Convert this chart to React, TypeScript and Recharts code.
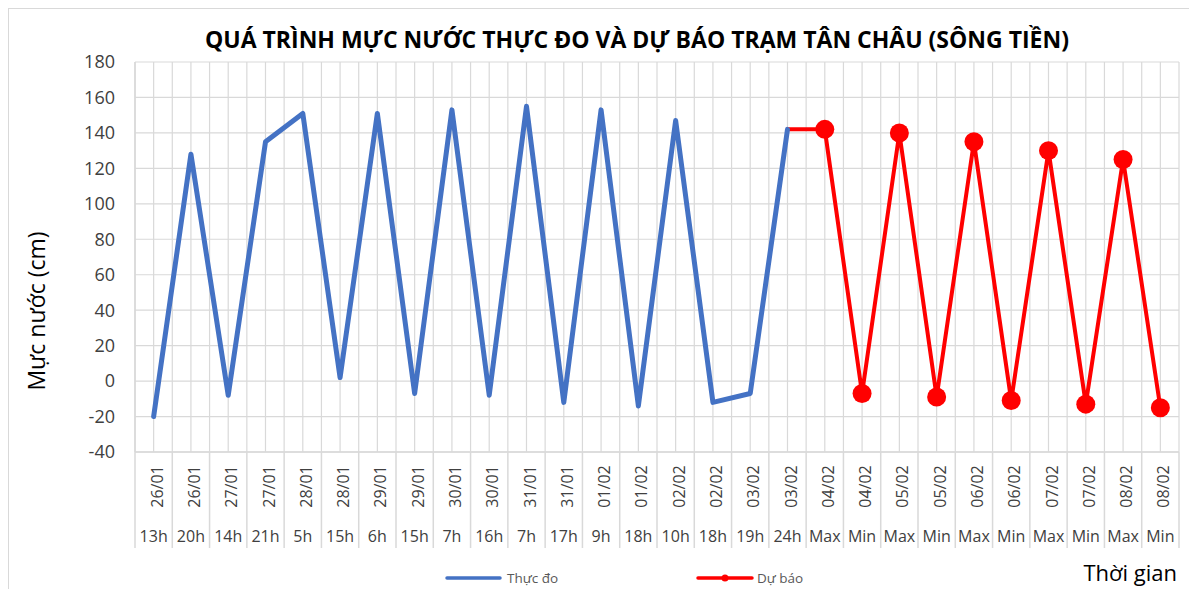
import { CartesianGrid, Line, LineChart, XAxis, YAxis } from "recharts";

// category labels (two-level x axis)
const dates = [
  "26/01", "26/01", "27/01", "27/01", "28/01", "28/01", "29/01", "29/01", "30/01", "30/01",
  "31/01", "31/01", "01/02", "01/02", "02/02", "02/02", "03/02", "03/02", "04/02", "04/02",
  "05/02", "05/02", "06/02", "06/02", "07/02", "07/02", "08/02", "08/02",
];
const hours = [
  "13h", "20h", "14h", "21h", "5h", "15h", "6h", "15h", "7h", "16h",
  "7h", "17h", "9h", "18h", "10h", "18h", "19h", "24h", "Max", "Min",
  "Max", "Min", "Max", "Min", "Max", "Min", "Max", "Min",
];

// measured water level (cm), from 26/01 13h to 03/02 24h
const thucDo = [-20, 128, -8, 135, 151, 2, 151, -7, 153, -8, 155, -12, 153, -14, 147, -12, -7, 142];
// forecast (cm), starts at the last measured point
const duBao = [142, 142, -7, 140, -9, 135, -11, 130, -13, 125, -15];
const duBaoStart = thucDo.length - 1;

const yTicks = [-40, -20, 0, 20, 40, 60, 80, 100, 120, 140, 160, 180];

const data = dates.map((date, i) => ({
  i,
  date,
  hour: hours[i],
  thucDo: i < thucDo.length ? thucDo[i] : null,
  duBao: i >= duBaoStart ? duBao[i - duBaoStart] : null,
}));

// grid lines at category centres and category boundaries
const xTicks: number[] = [];
for (let k = -0.5; k <= dates.length - 0.5; k += 0.5) xTicks.push(k);

const FONT = "'Open Sans', 'Noto Sans', sans-serif";
const GRID = "#d9d9d9";
const TEXT = "#404040";
const BLUE = "#4472c4";
const RED = "#ff0000";

function CategoryTick(props: any) {
  const { x, y, payload } = props;
  const v = payload.value as number;
  if (!Number.isInteger(v)) {
    return <line x1={x} y1={y} x2={x} y2={y + 96} stroke={GRID} strokeWidth={1.5} />;
  }
  return (
    <g fontFamily={FONT} fontSize={16} fill={TEXT}>
      <text transform={`translate(${x},${y + 34.5}) rotate(-90)`} y={9} textAnchor="middle">
        {dates[v]}
      </text>
      <text x={x} y={y + 90} textAnchor="middle">
        {hours[v]}
      </text>
    </g>
  );
}

function ForecastDot(props: any) {
  const { cx, cy, index } = props;
  if (cx == null || cy == null || index === duBaoStart) return <g key={`d-${index}`} />;
  return <circle key={`d-${index}`} cx={cx} cy={cy} r={9.5} fill={RED} />;
}

export default function App() {
  return (
    <div style={{ position: "relative", width: 1189, height: 581, fontFamily: FONT, background: "#fff" }}>
      <LineChart width={1189} height={581} data={data} margin={{ top: 54, right: 18, bottom: 41, left: 0 }}>
        <CartesianGrid stroke={GRID} strokeWidth={1.2} />
        <XAxis
          dataKey="i"
          type="number"
          domain={[-0.5, dates.length - 0.5]}
          ticks={xTicks}
          interval={0}
          height={96}
          tickSize={0}
          tickMargin={0}
          tickLine={false}
          axisLine={{ stroke: GRID, strokeWidth: 1.5 }}
          tick={<CategoryTick />}
        />
        <YAxis
          type="number"
          domain={[-40, 180]}
          ticks={yTicks}
          interval={0}
          width={127}
          tickSize={0}
          tickMargin={20}
          tickLine={false}
          axisLine={{ stroke: GRID, strokeWidth: 1.5 }}
          tick={{ fontSize: 18, fill: TEXT, fontFamily: FONT }}
        />
        <Line
          type="linear"
          dataKey="duBao"
          stroke={RED}
          strokeWidth={4}
          dot={<ForecastDot />}
          activeDot={false}
          isAnimationActive={false}
        />
        <Line
          type="linear"
          dataKey="thucDo"
          stroke={BLUE}
          strokeWidth={5}
          strokeLinejoin="round"
          strokeLinecap="round"
          dot={false}
          activeDot={false}
          isAnimationActive={false}
        />
      </LineChart>
      <svg
        width={1189}
        height={581}
        style={{ position: "absolute", left: 0, top: 0, pointerEvents: "none" }}
        fontFamily={FONT}
      >
        <text x={629} y={40} textAnchor="middle" fontSize={23} fontWeight="bold" fill="#000">
          QUÁ TRÌNH MỰC NƯỚC THỰC ĐO VÀ DỰ BÁO TRẠM TÂN CHÂU (SÔNG TIỀN)
        </text>
        <text transform="translate(37,303) rotate(-90)" textAnchor="middle" fontSize={23} fill="#000">
          Mực nước (cm)
        </text>
        <text x={1169} y={573} textAnchor="end" fontSize={22} fill="#000">
          Thời gian
        </text>
        <line x1={439} y1={570} x2={492} y2={570} stroke={BLUE} strokeWidth={3.5} strokeLinecap="round" />
        <text x={499} y={574.5} fontSize={13.5} fill="#595959">
          Thực đo
        </text>
        <line x1={690} y1={570} x2={744} y2={570} stroke={RED} strokeWidth={3.5} strokeLinecap="round" />
        <circle cx={717} cy={570} r={3.5} fill={RED} />
        <text x={749} y={574.5} fontSize={13.5} fill="#595959">
          Dự báo
        </text>
      </svg>
      <div
        style={{
          position: "absolute",
          left: 0,
          top: 0,
          width: "100%",
          height: "100%",
          boxSizing: "border-box",
          borderLeft: `1px solid ${GRID}`,
          borderTop: `1px solid ${GRID}`,
          pointerEvents: "none",
        }}
      />
    </div>
  );
}
